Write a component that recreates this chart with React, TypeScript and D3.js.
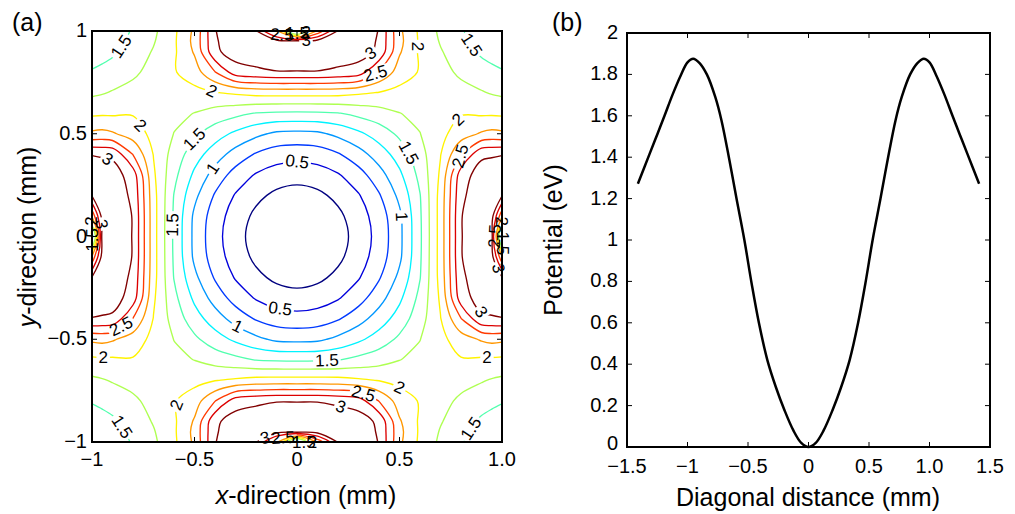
import React, { useMemo } from "react";
import * as d3 from "d3";

// sample positions (mm) of one quadrant; the map is mirrored in x and y
const gridPos = [0, 0.1, 0.2, 0.3, 0.4, 0.5, 0.6, 0.7, 0.8, 0.9, 0.95, 1.0];

// potential (eV), row = y position, column = x position
const quadrant = [
  [0, 0.04, 0.151, 0.344, 0.59, 0.935, 1.457, 2.1, 2.99, 3.15, 3.1, 1.1],
  [0.04, 0.078, 0.196, 0.38, 0.623, 0.95, 1.465, 2.1, 2.99, 3.15, 3.1, 2.3],
  [0.151, 0.196, 0.31, 0.48, 0.725, 1.06, 1.49, 2.09, 2.95, 3.15, 3.15, 3.02],
  [0.344, 0.38, 0.48, 0.65, 0.9, 1.2, 1.57, 2.04, 2.88, 3.12, 3.15, 3.15],
  [0.59, 0.623, 0.725, 0.9, 1.12, 1.36, 1.65, 1.99, 2.49, 2.95, 2.97, 2.99],
  [0.935, 0.95, 1.06, 1.2, 1.36, 1.55, 1.745, 1.93, 2.13, 2.28, 2.32, 2.3],
  [1.457, 1.465, 1.49, 1.57, 1.65, 1.745, 1.81, 1.89, 1.98, 1.96, 1.96, 1.95],
  [2.1, 2.1, 2.09, 2.04, 1.99, 1.93, 1.89, 1.87, 1.82, 1.77, 1.73, 1.7],
  [2.99, 2.99, 2.95, 2.88, 2.49, 2.13, 1.98, 1.82, 1.71, 1.6, 1.56, 1.52],
  [3.15, 3.15, 3.15, 3.12, 2.95, 2.28, 1.96, 1.77, 1.6, 1.46, 1.41, 1.38],
  [3.1, 3.1, 3.15, 3.15, 2.97, 2.32, 1.96, 1.73, 1.56, 1.41, 1.36, 1.32],
  [1.1, 2.3, 3.02, 3.15, 2.99, 2.3, 1.95, 1.7, 1.52, 1.38, 1.32, 1.28],
];

const levels = [0.25, 0.5, 0.75, 1, 1.25, 1.5, 1.75, 2, 2.25, 2.5, 2.75, 3];

// panel (b): potential along the diagonal
const diagDist = [
  -1.41, -1.314, -1.25, -1.19, -1.125, -1.056, -1.0, -0.953, -0.9, -0.84, -0.77,
  -0.72, -0.655, -0.595, -0.53, -0.47, -0.41, -0.34, -0.27, -0.2, -0.125, -0.06,
  0, 0.06, 0.125, 0.2, 0.27, 0.34, 0.41, 0.47, 0.53, 0.595, 0.655, 0.72, 0.77,
  0.84, 0.9, 0.953, 1.0, 1.056, 1.125, 1.19, 1.25, 1.314, 1.41,
];
const diagPot = [
  1.272, 1.415, 1.51, 1.6, 1.7, 1.795, 1.858, 1.876, 1.855, 1.8, 1.69,
  1.58, 1.39, 1.2, 1.0, 0.79, 0.6, 0.42, 0.29, 0.18, 0.08, 0.02,
  0, 0.02, 0.08, 0.18, 0.29, 0.42, 0.6, 0.79, 1.0, 1.2, 1.39, 1.58, 1.69,
  1.8, 1.855, 1.876, 1.858, 1.795, 1.7, 1.6, 1.51, 1.415, 1.272,
];

const xTicksA = [-1, -0.5, 0, 0.5, 1];
const xTickLabelsA = ["\u22121", "\u22120.5", "0", "0.5", "1.0"];
const yTicksA = [-1, -0.5, 0, 0.5, 1];
const yTickLabelsA = ["\u22121", "\u22120.5", "0", "0.5", "1"];
const xTicksB = [-1.5, -1, -0.5, 0, 0.5, 1, 1.5];
const xTickLabelsB = ["\u22121.5", "\u22121", "\u22120.5", "0", "0.5", "1.0", "1.5"];
const yTicksB = [0, 0.2, 0.4, 0.6, 0.8, 1, 1.2, 1.4, 1.6, 1.8, 2];
const yTickLabelsB = ["0", "0.2", "0.4", "0.6", "0.8", "1", "1.2", "1.4", "1.6", "1.8", "2"];

// where the inline contour labels go (level, x mm, y mm); snapped onto the line
const labelSpots: [number, number, number][] = [
  [1.5, -0.873, 0.934], [2, -0.424, 0.685], [2, -0.766, 0.539], [1.5, -0.507, 0.48],
  [0.5, 0, 0.358], [1, -0.415, 0.334], [1.5, 0.537, 0.402], [2, 0.59, 0.925],
  [1.5, 0.854, 0.934], [3, 0.371, 0.876], [2.5, 0.38, 0.8], [2, 0.785, 0.568],
  [2.5, 0.805, 0.388], [3, -0.922, 0.388], [1.5, -0.595, 0.056], [1, 0.493, 0.095],
  [2.5, -0.863, -0.43], [2, -0.946, -0.576], [3, 0.893, -0.371], [2, 0.927, -0.576],
  [0.5, -0.083, -0.361], [1, -0.293, -0.444], [1.5, 0.146, -0.61], [2, -0.585, -0.82],
  [1.5, -0.878, -0.941], [3, 0.22, -0.805], [2.5, 0.317, -0.78], [2, 0.502, -0.732],
  [1.5, 0.859, -0.941],
  [2.5, -0.078, 0.96], [1.5, 0.005, 0.975], [2, 0.05, 0.975], [3, 0.044, 0.94],
  [3, -0.165, -0.96], [2.5, -0.073, -0.96], [1.5, 0.05, -0.98], [2, 0.1, -0.97],
  [1.5, -0.985, -0.02], [2, -0.955, 0.12], [3, -0.955, 0.06],
  [2, 0.98, 0.08], [2.5, 0.975, 0.0], [1.5, 0.985, -0.05], [3, 0.97, -0.16],
];

const FONT = "'Liberation Sans', Arial, Helvetica, sans-serif";

const A = { left: 92, right: 502, top: 31, bottom: 442 };
const B = { left: 627, right: 990, top: 33, bottom: 447 };

const xA = d3.scaleLinear().domain([-1, 1]).range([A.left, A.right]);
const yA = d3.scaleLinear().domain([-1, 1]).range([A.bottom, A.top]);
const xB = d3.scaleLinear().domain([-1.5, 1.5]).range([B.left, B.right]);
const yB = d3.scaleLinear().domain([0, 2]).range([B.bottom, B.top]);

const jet = d3
  .scaleLinear<string>()
  .domain([0, 0.125, 0.375, 0.625, 0.875, 1])
  .range(["#000080", "#0000ff", "#00ffff", "#ffff00", "#ff0000", "#800000"]);
const levelColor = (v: number) =>
  jet((v - levels[0]) / (levels[levels.length - 1] - levels[0]));

type Run = { pts: [number, number][]; closed: boolean };

function clean(pts: [number, number][]) {
  const out: [number, number][] = [];
  pts.forEach((p) => {
    const l = out[out.length - 1];
    if (!l || Math.hypot(p[0] - l[0], p[1] - l[1]) > 0.05) out.push(p);
  });
  return out;
}

function buildContours() {
  const fullPos = gridPos.slice(1).reverse().map((v) => -v).concat(gridPos);
  const n = fullPos.length;
  const mid = gridPos.length - 1;
  const values: number[] = [];
  for (let j = 0; j < n; j++)
    for (let i = 0; i < n; i++)
      values.push(quadrant[Math.abs(j - mid)][Math.abs(i - mid)]);

  const toMm = d3.scaleLinear().domain(d3.range(n)).range(fullPos).clamp(true);
  const toPx = (p: number[]): [number, number] => [
    xA(toMm(p[0] - 0.5)),
    yA(toMm(p[1] - 0.5)),
  ];
  const onFrame = (p: number[]) => p[0] <= 0 || p[0] >= n || p[1] <= 0 || p[1] >= n;

  const sets = d3.contours().size([n, n]).thresholds(levels)(values);
  return sets.map((set) => {
    const runs: Run[] = [];
    set.coordinates.forEach((poly) =>
      poly.forEach((ringIn) => {
        const ring = ringIn.slice();
        const f = ring[0];
        const l = ring[ring.length - 1];
        if (ring.length > 1 && f[0] === l[0] && f[1] === l[1]) ring.pop();
        const start = ring.findIndex(onFrame);
        if (start < 0) {
          runs.push({ pts: clean(ring.map(toPx)), closed: true });
          return;
        }
        let cur: number[][] = [];
        for (let k = 1; k <= ring.length; k++) {
          const p = ring[(start + k) % ring.length];
          if (onFrame(p)) {
            if (cur.length > 1) runs.push({ pts: clean(cur.map(toPx)), closed: false });
            cur = [];
          } else cur.push(p);
        }
        if (cur.length > 1) runs.push({ pts: clean(cur.map(toPx)), closed: false });
      })
    );
    return { value: set.value, runs };
  });
}

function snap(runs: Run[], tx: number, ty: number) {
  let best = { d: Infinity, x: tx, y: ty, k: 0, run: runs[0] };
  runs.forEach((r) => {
    const m = r.pts.length;
    const segs = r.closed ? m : m - 1;
    for (let k = 0; k < segs; k++) {
      const p = r.pts[k];
      const q = r.pts[(k + 1) % m];
      const dx = q[0] - p[0];
      const dy = q[1] - p[1];
      const L2 = dx * dx + dy * dy || 1e-9;
      const t = Math.max(0, Math.min(1, ((tx - p[0]) * dx + (ty - p[1]) * dy) / L2));
      const cx = p[0] + t * dx;
      const cy = p[1] + t * dy;
      const d = (cx - tx) ** 2 + (cy - ty) ** 2;
      if (d < best.d) best = { d, x: cx, y: cy, k, run: r };
    }
  });
  // direction from a couple of neighbouring vertices
  const pts = best.run.pts;
  const m = pts.length;
  const get = (i: number) =>
    best.run.closed ? pts[((i % m) + m) % m] : pts[Math.max(0, Math.min(m - 1, i))];
  const p0 = get(best.k - 1);
  const p1 = get(best.k + 2);
  let ang = (Math.atan2(p1[1] - p0[1], p1[0] - p0[0]) * 180) / Math.PI;
  if (ang > 90) ang -= 180;
  if (ang < -90) ang += 180;
  return { x: best.x, y: best.y, ang };
}

const labelWidth = (s: string, fs: number) =>
  s.split("").reduce((w, c) => w + (c === "." ? 0.278 : 0.556), 0) * fs;

export default function App() {
  const contourSets = useMemo(() => buildContours(), []);

  const labels = useMemo(
    () =>
      labelSpots.map(([v, mx, my]) => {
        const set = contourSets.find((s) => Math.abs(s.value - v) < 1e-6);
        const pos = set && set.runs.length ? snap(set.runs, xA(mx), yA(my)) : { x: xA(mx), y: yA(my), ang: 0 };
        return { v, text: String(v), ...pos };
      }),
    [contourSets]
  );

  const openLine = d3.line().curve(d3.curveCatmullRom.alpha(0.5));
  const closedLine = d3.line().curve(d3.curveCatmullRomClosed.alpha(0.5));

  const diagLine = d3
    .line<number>()
    .x((_, i) => xB(diagDist[i]))
    .y((d) => yB(d))
    .curve(d3.curveCatmullRom.alpha(0.5));

  const fsLab = 17;
  const tickLen = 5;

  return (
    <svg
      width={1015}
      height={514}
      style={{ position: "absolute", left: 0, top: 0, background: "#fff" }}
      fontFamily={FONT}
    >
      <defs>
        <clipPath id="clipA">
          <rect x={A.left} y={A.top} width={A.right - A.left} height={A.bottom - A.top} />
        </clipPath>
        {contourSets.map((s, k) => (
          <mask key={k} id={`gap${k}`} maskUnits="userSpaceOnUse" x={0} y={0} width={1015} height={514}>
            <rect x={0} y={0} width={1015} height={514} fill="#fff" />
            {labels
              .filter((l) => Math.abs(l.v - s.value) < 1e-6)
              .map((l, i) => {
                const w = labelWidth(l.text, fsLab) + 4;
                return (
                  <rect
                    key={i}
                    x={l.x - w / 2}
                    y={l.y - 7}
                    width={w}
                    height={14}
                    fill="#000"
                    transform={`rotate(${l.ang} ${l.x} ${l.y})`}
                  />
                );
              })}
          </mask>
        ))}
      </defs>

      {/* panel (a) */}
      <g clipPath="url(#clipA)">
        {contourSets.map((s, k) => (
          <g key={k} mask={`url(#gap${k})`} stroke={levelColor(s.value)} strokeWidth={1.35} fill="none">
            {s.runs.map((r, i) => (
              <path key={i} d={(r.closed ? closedLine : openLine)(r.pts) || ""} />
            ))}
          </g>
        ))}
      </g>
      {labels.map((l, i) => (
        <text
          key={i}
          x={l.x}
          y={l.y}
          fontSize={fsLab}
          textAnchor="middle"
          dominantBaseline="central"
          transform={`rotate(${l.ang} ${l.x} ${l.y})`}
        >
          {l.text}
        </text>
      ))}
      <rect
        x={A.left}
        y={A.top}
        width={A.right - A.left}
        height={A.bottom - A.top}
        fill="none"
        stroke="#000"
        strokeWidth={2}
      />
      {xTicksA.map((t, i) => (
        <g key={i}>
          <line x1={xA(t)} x2={xA(t)} y1={A.bottom} y2={A.bottom - tickLen} stroke="#000" />
          <line x1={xA(t)} x2={xA(t)} y1={A.top} y2={A.top + tickLen} stroke="#000" />
          <text x={xA(t)} y={A.bottom + 24} fontSize={20} textAnchor="middle">
            {xTickLabelsA[i]}
          </text>
        </g>
      ))}
      {yTicksA.map((t, i) => (
        <g key={i}>
          <line x1={A.left} x2={A.left + tickLen} y1={yA(t)} y2={yA(t)} stroke="#000" />
          <line x1={A.right} x2={A.right - tickLen} y1={yA(t)} y2={yA(t)} stroke="#000" />
          <text x={A.left - 5} y={yA(t) + 6} fontSize={20} textAnchor="end">
            {yTickLabelsA[i]}
          </text>
        </g>
      ))}
      <text x={306} y={504} fontSize={25} textAnchor="middle">
        <tspan fontStyle="italic">x</tspan>-direction (mm)
      </text>
      <text x={0} y={0} fontSize={25} textAnchor="middle" transform="translate(36,237) rotate(-90)">
        <tspan fontStyle="italic">y</tspan>-direction (mm)
      </text>
      <text x={12} y={31} fontSize={25}>(a)</text>

      {/* panel (b) */}
      <path d={diagLine(diagPot) || ""} fill="none" stroke="#000" strokeWidth={2.5} />
      <rect
        x={B.left}
        y={B.top}
        width={B.right - B.left}
        height={B.bottom - B.top}
        fill="none"
        stroke="#000"
        strokeWidth={2}
      />
      {xTicksB.map((t, i) => (
        <g key={i}>
          <line x1={xB(t)} x2={xB(t)} y1={B.bottom} y2={B.bottom - tickLen} stroke="#000" />
          <line x1={xB(t)} x2={xB(t)} y1={B.top} y2={B.top + tickLen} stroke="#000" />
          <text x={xB(t)} y={B.bottom + 26} fontSize={20} textAnchor="middle">
            {xTickLabelsB[i]}
          </text>
        </g>
      ))}
      {yTicksB.map((t, i) => (
        <g key={i}>
          <line x1={B.left} x2={B.left + tickLen} y1={yB(t)} y2={yB(t)} stroke="#000" />
          <line x1={B.right} x2={B.right - tickLen} y1={yB(t)} y2={yB(t)} stroke="#000" />
          <text x={B.left - 9} y={yB(t) + (t === 0 ? 3 : 6)} fontSize={20} textAnchor="end">
            {yTickLabelsB[i]}
          </text>
        </g>
      ))}
      <text x={808} y={506} fontSize={25} textAnchor="middle">
        Diagonal distance (mm)
      </text>
      <text x={0} y={0} fontSize={25} textAnchor="middle" transform="translate(562,240) rotate(-90)">
        Potential (eV)
      </text>
      <text x={552} y={31} fontSize={25}>(b)</text>
    </svg>
  );
}
